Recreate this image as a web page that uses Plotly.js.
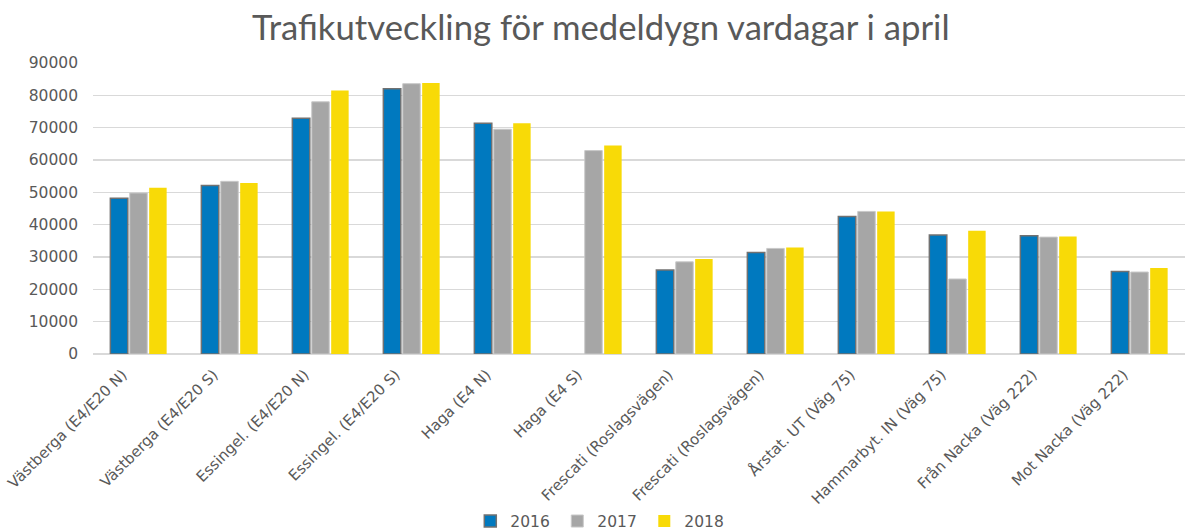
<!DOCTYPE html>
<html>
<head>
<meta charset="utf-8">
<script src="https://cdn.plot.ly/plotly-3.0.1.min.js"></script>
<style>html,body{margin:0;padding:0;background:#fff;}#chart{width:1185px;height:531px;}</style>
</head>
<body>
<div id="chart"></div>
<script>
const categories = [
  "Västberga (E4/E20 N)",
  "Västberga (E4/E20 S)",
  "Essingel. (E4/E20 N)",
  "Essingel. (E4/E20 S)",
  "Haga (E4 N)",
  "Haga (E4 S)",
  "Frescati (Roslagsvägen)",
  "Frescati (Roslagsvägen)",
  "Årstat. UT (Väg 75)",
  "Hammarbyt. IN (Väg 75)",
  "Från Nacka (Väg 222)",
  "Mot Nacka (Väg 222)"
];
const series2016 = [48200, 52100, 72900, 82000, 71400, null, 26000, 31400, 42500, 36800, 36550, 25550];
const series2017 = [49800, 53400, 78000, 83600, 69500, 62900, 28500, 32650, 44100, 23200, 36150, 25350];
const series2018 = [51400, 52900, 81500, 83800, 71400, 64500, 29350, 32950, 44100, 38100, 36350, 26600];
const seriesNames = ["2016", "2017", "2018"];
const yTicks = [0, 10000, 20000, 30000, 40000, 50000, 60000, 70000, 80000, 90000];

const xIdx = categories.map((c, i) => i);

const traces = [
  {type: 'bar', name: seriesNames[0], x: xIdx, y: series2016,
   marker: {color: '#0079bf', line: {color: '#717171', width: 1.5}}},
  {type: 'bar', name: seriesNames[1], x: xIdx, y: series2017,
   marker: {color: '#a6a6a6', line: {color: '#c8c8c8', width: 1}}},
  {type: 'bar', name: seriesNames[2], x: xIdx, y: series2018,
   marker: {color: '#f8da07', line: {color: '#f8da07', width: 0}}}
];

const layout = {
  width: 1185, height: 531,
  paper_bgcolor: '#ffffff', plot_bgcolor: '#ffffff',
  margin: {l: 93, r: 0, t: 63, b: 177, pad: 0},
  title: {text: 'Trafikutveckling för medeldygn vardagar i april',
          font: {family: 'Lato, "Open Sans", sans-serif', size: 34.7, color: '#595959'},
          x: 0.507, xanchor: 'center', y: 0.947, yanchor: 'middle', yref: 'container'},
  barmode: 'group', bargap: 0.36, bargroupgap: 0.1,
  font: {family: '"DejaVu Sans", Verdana, sans-serif', size: 14, color: '#595959'},
  xaxis: {
    tickmode: 'array', tickvals: xIdx, ticktext: categories,
    range: [-0.5, categories.length - 0.5],
    tickangle: -45, showgrid: false, zeroline: false, showline: false,
    ticks: '', ticklen: 0, ticklabelshift: -16, ticklabelstandoff: 8,
    tickfont: {family: '"DejaVu Sans", Verdana, sans-serif', size: 15, color: '#595959'}
  },
  yaxis: {
    range: [0, 90000], tickmode: 'array', tickvals: yTicks,
    ticktext: yTicks.map(String),
    showgrid: true, gridcolor: '#d9d9d9', gridwidth: 1.5,
    zeroline: true, zerolinecolor: '#d9d9d9', zerolinewidth: 1.5,
    showline: false, ticks: '', ticklabelstandoff: 14,
    tickfont: {family: '"DejaVu Sans", Verdana, sans-serif', size: 15.5, color: '#595959'}
  },
  showlegend: true,
  legend: {orientation: 'h', x: 0.507, xanchor: 'center', xref: 'container',
           y: 0.018, yanchor: 'middle', yref: 'container',
           font: {family: '"DejaVu Sans", Verdana, sans-serif', size: 15.5, color: '#595959'},
           itemwidth: 30, entrywidth: 42, entrywidthmode: 'pixels', tracegroupgap: 0}
};

Plotly.newPlot('chart', traces, layout, {displayModeBar: false, staticPlot: true});
</script>
</body>
</html>
